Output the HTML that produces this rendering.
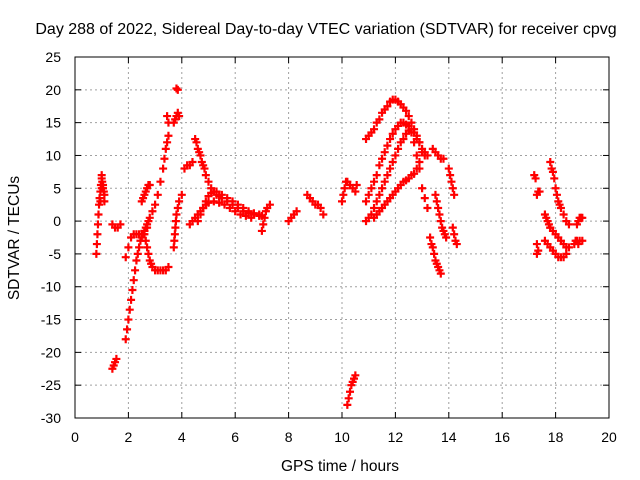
<!DOCTYPE html>
<html><head><meta charset="utf-8"><style>
body{margin:0;background:#fff}
svg{display:block;font-family:"Liberation Sans",sans-serif}
</style></head><body>
<svg id="chart" width="640" height="480">
<text x="326" y="34" font-size="16" text-anchor="middle" fill="#000">Day 288 of 2022, Sidereal Day-to-day VTEC variation (SDTVAR) for receiver cpvg</text>
<text x="340" y="471" font-size="15.5" text-anchor="middle">GPS time / hours</text>
<text transform="translate(19,238) rotate(-90)" font-size="15.5" text-anchor="middle">SDTVAR / TECUs</text>
<g id="grid"></g><g id="axes"></g><g id="marks"></g>
</svg>
<script>
const xTicks=[0,2,4,6,8,10,12,14,16,18,20];
const yTicks=[25,20,15,10,5,0,-5,-10,-15,-20,-25,-30];
const hours=[
0.8,0.82,0.84,0.86,0.88,0.9,0.92,0.95,0.97,1.0,1.0,1.02,1.05,1.08,1.1,1.1,0.95,1.0,1.05,
1.4,1.45,1.5,1.55,1.4,1.5,1.6,1.7,
1.9,1.95,2.0,2.05,2.1,2.15,2.2,2.25,2.3,2.35,2.4,2.45,2.5,2.55,2.6,2.65,2.7,2.75,2.8,2.9,3.0,3.1,3.2,3.3,3.35,3.4,3.45,3.5,3.5,3.45,
1.9,2.0,2.1,2.2,2.3,2.4,2.5,2.6,2.7,
2.5,2.55,2.6,2.65,2.7,2.75,2.8,
2.6,2.65,2.7,2.75,2.8,2.85,2.9,3.0,3.1,3.2,3.3,3.4,3.5,
3.8,3.85,3.7,3.75,3.8,3.85,3.9,
3.7,3.72,3.74,3.76,3.78,3.8,3.85,3.9,4.0,4.1,4.2,4.3,4.4,
4.5,4.55,4.6,4.65,4.7,4.75,4.8,4.85,4.9,5.0,5.1,5.2,5.3,5.4,5.5,5.7,5.9,6.1,6.3,6.5,6.7,6.9,
4.6,4.7,4.8,4.9,5.0,5.1,5.2,5.3,5.5,5.7,5.9,6.1,6.3,6.5,6.7,6.9,7.0,
4.3,4.4,4.5,4.6,4.7,4.8,4.9,5.0,5.2,5.4,5.6,5.8,6.0,6.2,6.4,6.6,
7.0,7.05,7.1,7.15,7.2,7.3,
8.0,8.1,8.2,8.3,8.7,8.8,8.9,9.0,9.1,9.2,9.3,
10.0,10.05,10.1,10.15,10.2,10.3,10.4,10.5,10.55,
10.2,10.25,10.3,10.35,10.4,10.45,10.5,
10.9,11.0,11.1,11.2,11.3,11.4,11.5,11.6,11.7,11.8,11.9,12.0,12.1,12.2,12.3,12.4,12.5,12.6,12.7,12.8,12.9,13.0,13.1,13.2,
10.9,11.0,11.1,11.2,11.3,11.4,11.5,11.6,11.7,11.8,11.9,12.0,12.1,12.2,12.3,12.4,12.5,12.6,12.7,12.8,12.9,13.0,13.1,13.2,
10.9,11.0,11.1,11.2,11.3,11.4,11.5,11.6,11.7,11.8,11.9,12.0,12.1,12.2,12.3,12.4,12.5,12.6,12.7,12.8,12.9,13.0,13.1,
11.2,11.3,11.4,11.5,11.6,11.7,11.8,11.9,12.0,12.1,12.2,12.3,12.4,12.5,12.6,12.7,12.8,12.9,
13.3,13.35,13.4,13.45,13.5,13.55,13.6,13.65,13.7,
13.4,13.5,13.6,13.7,13.8,13.5,13.55,13.6,13.65,13.7,13.75,13.8,13.85,13.9,
14.0,14.05,14.1,14.15,14.2,14.15,14.2,14.25,14.3,
17.2,17.25,17.3,17.35,17.4,17.3,17.3,17.35,
17.8,17.85,17.9,17.95,18.0,18.05,18.1,18.15,18.2,18.3,18.4,18.5,
17.6,17.7,17.8,17.9,18.0,18.1,18.2,18.3,18.4,
17.8,17.9,18.0,18.1,18.2,18.3,18.4,18.5,
17.6,17.65,17.7,17.75,17.8,
18.7,18.75,18.8,18.85,18.9,19.0,18.8,18.85,18.9,18.95,19.0
];
const tecu=[
-5,-3.5,-2,-0.5,1,2.5,3.5,4.5,5.5,6.5,7,6,5,4.5,4,3,3,5,5.5,
-22.5,-22,-21.5,-21,-0.5,-1,-1,-0.5,
-18,-16.5,-15,-13.5,-12,-10.5,-9,-7.5,-6,-5,-4,-3,-2.5,-2,-1.5,-1,-0.5,0,0.5,1.5,2.5,4,6,8,9.5,11,12,13,15,16,
-5.5,-4,-2.5,-2,-2,-2,-2,-1.5,-1,
3,3.5,4,4.5,5,5.5,5.5,
-2,-3,-4,-5,-6,-6.5,-7,-7.5,-7.5,-7.5,-7.5,-7.5,-7,
20.2,20,15,15.5,16,16.5,16,
-4,-3,-2,-1,0,1,2,3,4,8,8.5,8.5,9,
12.5,12,11,10.5,10,9,8.5,8,7,6,5,4.5,4,3.8,3.5,3,2.5,2,1.5,1.2,1,0.8,
0,1,2,3,3.8,4.3,4.5,4.5,4,3.5,3,2.5,2,1.5,1.2,1,0.8,
-0.5,0,0.5,1,1.5,2,2.5,2.8,3,2.8,2.5,2,1.5,1,0.8,0.5,
-1.5,-0.5,0.5,1.5,2,2.5,
0,0.5,1,1.5,4,3.5,3,2.5,2.5,2,1,
3,4,5,6,6,5.5,5,4.5,5.5,
-28,-27,-26,-25,-24.5,-24,-23.5,
12.5,13,13.5,14,15,15.5,16.5,17,17.5,18.2,18.5,18.5,18.2,17.8,17.3,16.8,16,15,14,13,12,11,10.5,10,
3,4,5,6,7,8.5,9.5,10.5,11.5,12.5,13.3,14,14.5,15,15,14.7,14.5,13.5,12,10,8,5,3.5,2,
0,0.5,1,2,3,4,5,6,7,8,9,10,11,12,12.5,13.3,13.8,14,13.5,12.5,12,10.5,10,
0.5,1,1.5,2,2.5,3,3.5,4,4.5,5,5.5,6,6.2,6.5,7,7.2,8,9,
-2.5,-3.5,-4,-5,-6,-6.5,-7,-7.5,-8,
11,10.5,10,9.5,9.5,4,3,2,1,0,-1,-1.5,-2,-2.5,
8,7,6,5,4,-1,-2,-3,-3.5,
7,6.5,4,4.5,4.5,-3.5,-5,-4.5,
9,8,7.5,6.5,5,4,3,2.5,2,1,0,-0.5,
-3,-3.5,-4,-4.5,-5,-5.5,-5.5,-5.5,-5,
-1,-1.5,-2,-2.5,-3,-3.5,-4,-4,
1,0.5,0,-0.5,-1,
-3.5,-3,-3,-3.5,-3,-3,-0.5,0,0.5,0.5,0.5
];
const L=75,R=609,T=57,B=418;
const sx=h=>L+(h-0)/(20-0)*(R-L);
const sy=v=>B-(v-(-30))/(25-(-30))*(B-T);
const ns="http://www.w3.org/2000/svg";
const grid=document.getElementById('grid'),axes=document.getElementById('axes'),marks=document.getElementById('marks');
function mk(tag,at,parent){const e=document.createElementNS(ns,tag);for(const k in at)e.setAttribute(k,at[k]);parent.appendChild(e);return e;}
xTicks.forEach(t=>{
 const x=sx(t);
 if(t>0&&t<20){const g=mk('line',{x1:x,x2:x,y1:T,y2:B,stroke:'#a0a0a0','stroke-dasharray':'2,3'},grid);
 
 }
 mk('line',{x1:x,x2:x,y1:B,y2:B-6,stroke:'#000'},axes);
 mk('line',{x1:x,x2:x,y1:T,y2:T+6,stroke:'#000'},axes);
 const tx=mk('text',{x:x,y:B+24,'font-size':14,'text-anchor':'middle'},axes);tx.textContent=t;
 
 
});
yTicks.forEach(t=>{
 const y=sy(t);
 if(t<25&&t>-30){const g=mk('line',{x1:L,x2:R,y1:y,y2:y,stroke:'#a0a0a0','stroke-dasharray':'2,3'},grid);
 
 }
 mk('line',{x1:L,x2:L+6,y1:y,y2:y,stroke:'#000'},axes);
 mk('line',{x1:R,x2:R-6,y1:y,y2:y,stroke:'#000'},axes);
 const tx=mk('text',{x:L-14,y:y+5,'font-size':14,'text-anchor':'end'},axes);tx.textContent=t;
 
 
});
const fr=mk('rect',{x:L,y:T,width:R-L,height:B-T,fill:'none',stroke:'#000'},axes);


for(let i=0;i<hours.length;i++){
 const x=sx(hours[i]),y=sy(tecu[i]);
 const p=mk('path',{d:`M${x-4},${y}h8M${x},${y-4}v8`,stroke:'#f00','stroke-width':2.2,fill:'none'},marks);
 
 
}
</script>
</body></html>
